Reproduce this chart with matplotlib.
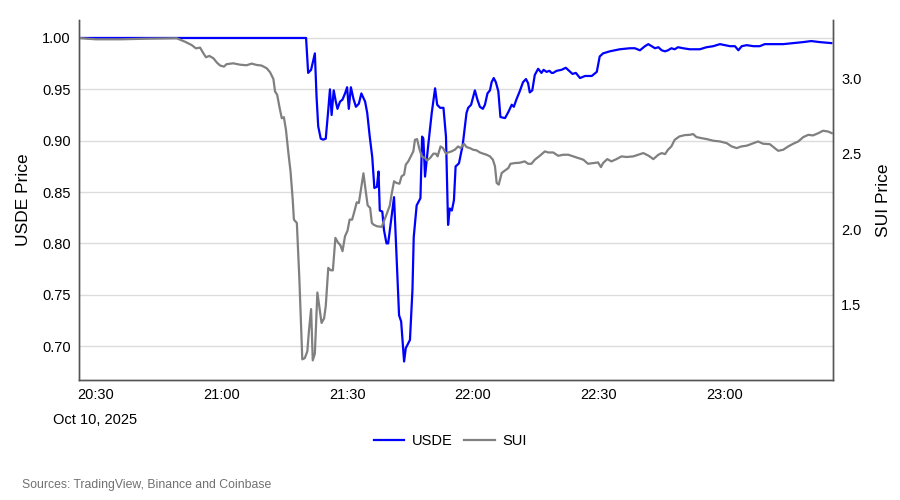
import matplotlib
matplotlib.use('Agg')
import matplotlib.pyplot as plt
import matplotlib.dates as mdates
from matplotlib.ticker import FormatStrFormatter
import pandas as pd

plt.rcParams['font.family'] = ['Liberation Sans', 'DejaVu Sans']

# minutes after 20:00 on Oct 10, 2025
usde_min = [26, 80.2, 80.7, 81.4, 82.3, 82.7, 83.1, 83.7, 84.3, 84.9, 85.5, 85.9, 86.3, 86.8, 87.3,
            87.7, 88.3, 88.9, 89.5, 90.0, 90.4, 90.9, 91.5, 92.1, 92.8, 93.4, 94.3, 94.8, 95.4, 96.0,
            96.5, 97.1, 97.5, 97.8, 98.4, 98.8, 99.4, 99.8, 100.2, 101.2, 101.8, 102.4, 102.9, 103.6,
            104.0, 105.0, 105.6, 105.9, 106.6, 107.5, 107.9, 108.2, 108.6, 109.4, 110.2, 111.0, 111.5,
            112.2, 113.0, 113.6, 114.1, 114.5, 115.0, 115.5, 115.9, 116.2, 116.7, 117.6, 118.5, 118.9,
            119.6, 120.5, 121.1, 121.7, 122.4, 122.9, 123.5, 124.1, 124.5, 125.0, 125.5, 126.1, 126.6,
            127.7, 128.5, 129.3, 129.8, 130.4, 131.2, 132.0, 132.7, 133.2, 133.6, 134.2, 134.8, 135.6,
            136.4, 136.9, 137.6, 138.3, 138.8, 139.2, 140.0, 141.2, 142.2, 143.0, 143.8, 144.6, 145.6,
            146.8, 148.4, 149.6, 150.3, 151.1, 152.7, 155.1, 157.5, 158.7, 159.9, 161.1, 161.9, 162.7,
            163.5, 164.3, 165.1, 165.9, 166.6, 167.4, 168.2, 169.0, 170.2, 171.8, 174.2, 175.8, 177.4,
            179.0, 180.2, 181.4, 182.6, 183.4, 184.2, 185.4, 187.0, 188.5, 189.7, 191.7, 194.1, 196.5,
            198.9, 200.8, 202.8, 205.6]
usde_price = [1.000, 1.000, 0.966, 0.969, 0.985, 0.943, 0.914, 0.902, 0.901, 0.902, 0.930, 0.950, 0.925,
              0.949, 0.938, 0.931, 0.938, 0.940, 0.946, 0.952, 0.931, 0.952, 0.941, 0.933, 0.936, 0.946,
              0.938, 0.927, 0.904, 0.884, 0.854, 0.855, 0.870, 0.832, 0.831, 0.813, 0.800, 0.800, 0.813,
              0.845, 0.787, 0.730, 0.724, 0.685, 0.698, 0.706, 0.755, 0.806, 0.837, 0.844, 0.904, 0.902,
              0.865, 0.897, 0.927, 0.951, 0.935, 0.932, 0.932, 0.904, 0.818, 0.834, 0.832, 0.842, 0.875,
              0.876, 0.878, 0.896, 0.927, 0.932, 0.935, 0.949, 0.940, 0.933, 0.931, 0.935, 0.946, 0.949,
              0.957, 0.961, 0.957, 0.948, 0.923, 0.922, 0.928, 0.935, 0.933, 0.940, 0.948, 0.957, 0.960,
              0.956, 0.947, 0.949, 0.964, 0.970, 0.966, 0.969, 0.967, 0.968, 0.966, 0.966, 0.968, 0.969,
              0.971, 0.968, 0.965, 0.966, 0.961, 0.963, 0.963, 0.967, 0.982, 0.985, 0.987, 0.989, 0.990,
              0.990, 0.988, 0.992, 0.994, 0.992, 0.990, 0.991, 0.988, 0.987, 0.988, 0.990, 0.989, 0.991,
              0.990, 0.989, 0.989, 0.991, 0.992, 0.994, 0.993, 0.992, 0.992, 0.988, 0.992, 0.993, 0.992,
              0.992, 0.994, 0.994, 0.994, 0.995, 0.996, 0.997, 0.996, 0.995]

sui_min = [26, 28, 30, 36, 42, 49.3, 51.3, 52.9, 53.9, 54.9, 55.7, 56.3, 57.1, 58.1, 58.9, 59.7, 60.6,
           61.2, 62.8, 64.4, 66.0, 67.2, 68.4, 69.6, 70.8, 71.6, 72.4, 72.8, 73.3, 73.9, 74.4, 74.9,
           75.4, 76.0, 76.5, 77.0, 77.3, 78.0, 78.6, 79.3, 79.9, 80.5, 80.9, 81.4, 81.8, 82.3, 82.9,
           83.4, 83.9, 84.5, 84.9, 85.5, 86.1, 86.6, 87.2, 87.8, 88.4, 88.9, 89.5, 90.1, 90.6, 91.2,
           91.8, 92.3, 92.8, 93.4, 93.9, 94.4, 94.9, 95.5, 95.9, 96.3, 97.1, 98.3, 98.6, 99.4, 100.2,
           100.6, 101.2, 101.8, 102.5, 103.0, 103.6, 104.0, 104.6, 105.2, 105.8, 106.2, 106.7, 107.2,
           107.8, 108.6, 109.1, 109.8, 110.6, 111.2, 111.6, 112.3, 112.9, 113.6, 114.1, 114.9, 115.7,
           116.5, 117.1, 117.9, 118.5, 119.3, 120.1, 120.9, 121.7, 122.5, 123.3, 124.1, 124.8, 125.3,
           125.7, 126.2, 126.9, 127.7, 128.5, 129.0, 130.1, 131.2, 132.4, 133.2, 134.0, 134.8, 136.0,
           137.2, 138.0, 139.2, 140.4, 141.6, 142.8, 144.0, 145.2, 146.4, 147.5, 148.8, 149.9, 150.6,
           151.1, 152.1, 153.1, 154.3, 155.5, 156.7, 158.3, 159.5, 160.7, 162.0, 163.1, 164.3, 165.1,
           165.9, 166.6, 167.4, 168.2, 169.3, 170.6, 171.8, 172.6, 173.4, 174.6, 175.8, 177.4, 179.0,
           180.6, 181.8, 183.0, 184.1, 185.4, 187.0, 188.1, 189.3, 190.9, 192.1, 192.9, 194.1, 195.3,
           196.5, 197.7, 198.9, 200.1, 201.2, 202.5, 203.6, 204.8, 205.7]
sui_price = [3.267, 3.262, 3.258, 3.258, 3.262, 3.265, 3.242, 3.220, 3.198, 3.203, 3.165, 3.139, 3.148,
             3.132, 3.104, 3.084, 3.077, 3.093, 3.099, 3.090, 3.086, 3.097, 3.088, 3.084, 3.066, 3.040,
             2.995, 2.912, 2.890, 2.802, 2.735, 2.742, 2.658, 2.500, 2.380, 2.200, 2.063, 2.041, 1.670,
             1.137, 1.145, 1.190, 1.330, 1.470, 1.130, 1.175, 1.580, 1.480, 1.378, 1.408, 1.490, 1.743,
             1.727, 1.727, 1.942, 1.912, 1.893, 1.854, 1.953, 1.990, 2.063, 2.063, 2.124, 2.178, 2.173,
             2.283, 2.370, 2.261, 2.158, 2.140, 2.041, 2.030, 2.019, 2.015, 2.041, 2.096, 2.158, 2.228,
             2.317, 2.306, 2.301, 2.350, 2.361, 2.427, 2.449, 2.482, 2.515, 2.592, 2.597, 2.537, 2.482,
             2.471, 2.455, 2.471, 2.500, 2.500, 2.482, 2.548, 2.537, 2.500, 2.508, 2.515, 2.526, 2.548,
             2.537, 2.566, 2.544, 2.537, 2.526, 2.522, 2.508, 2.500, 2.493, 2.482, 2.460, 2.416, 2.306,
             2.295, 2.372, 2.389, 2.405, 2.433, 2.438, 2.440, 2.449, 2.433, 2.433, 2.460, 2.486, 2.515,
             2.508, 2.508, 2.486, 2.493, 2.493, 2.482, 2.471, 2.460, 2.433, 2.438, 2.442, 2.411, 2.438,
             2.464, 2.449, 2.464, 2.482, 2.478, 2.482, 2.493, 2.504, 2.486, 2.464, 2.493, 2.504, 2.497,
             2.526, 2.548, 2.592, 2.614, 2.623, 2.625, 2.630, 2.610, 2.603, 2.597, 2.586, 2.581, 2.570,
             2.548, 2.537, 2.548, 2.553, 2.570, 2.581, 2.566, 2.563, 2.537, 2.519, 2.526, 2.548, 2.566,
             2.581, 2.610, 2.625, 2.621, 2.636, 2.652, 2.647, 2.636]

usde_ticks = [0.70, 0.75, 0.80, 0.85, 0.90, 0.95, 1.00]
sui_ticks = [1.5, 2.0, 2.5, 3.0]

base = pd.Timestamp('2025-10-10 20:00')
usde_time = base + pd.to_timedelta(usde_min, unit='min')
sui_time = base + pd.to_timedelta(sui_min, unit='min')

fig = plt.figure(figsize=(9, 5), dpi=100)
ax = fig.add_axes([0.0878, 0.24, 0.8378, 0.72])
ax2 = ax.twinx()

ax.plot(usde_time, usde_price, color='#0000FF', lw=1.6, label='USDE')
ax2.plot(sui_time, sui_price, color='#808080', lw=1.6, label='SUI')

ax.set_xlim(base + pd.Timedelta(minutes=26), base + pd.Timedelta(minutes=206))
ax.set_ylim(0.667, 1.0175)
ax2.set_ylim(1.0, 3.386)

ax.set_yticks(usde_ticks)
ax.yaxis.set_major_formatter(FormatStrFormatter('%.2f'))
ax2.set_yticks(sui_ticks)
ax2.yaxis.set_major_formatter(FormatStrFormatter('%.1f'))

ax.xaxis.set_major_locator(mdates.MinuteLocator(byminute=[0, 30]))
ax.xaxis.set_major_formatter(mdates.DateFormatter('%H:%M'))

ax.grid(axis='y', color='#dcdcdc', lw=1)
ax.set_axisbelow(True)

for a in (ax, ax2):
    a.tick_params(length=0, labelsize=10.5, pad=6)
    a.spines['top'].set_visible(False)
    for s in ('left', 'right', 'bottom'):
        a.spines[s].set_color('#555555')
        a.spines[s].set_linewidth(1)

ax.set_ylabel('USDE Price', fontsize=12.5, labelpad=8)
ax2.set_ylabel('SUI Price', fontsize=12.5, labelpad=10)

fig.text(53 / 900, 0.16, 'Oct 10, 2025', fontsize=10.5, ha='left', va='center')

h1, l1 = ax.get_legend_handles_labels()
h2, l2 = ax2.get_legend_handles_labels()
fig.legend(h1 + h2, l1 + l2, loc='center', bbox_to_anchor=(0.5, 0.118), ncol=2, frameon=False,
           fontsize=10.5, handlelength=2.1, columnspacing=0.8, handletextpad=0.5)

fig.text(22 / 900, 0.03, 'Sources: TradingView, Binance and Coinbase', fontsize=8.8,
         color='#707070', ha='left', va='center')

plt.savefig('out.png', dpi=100, facecolor='white')
